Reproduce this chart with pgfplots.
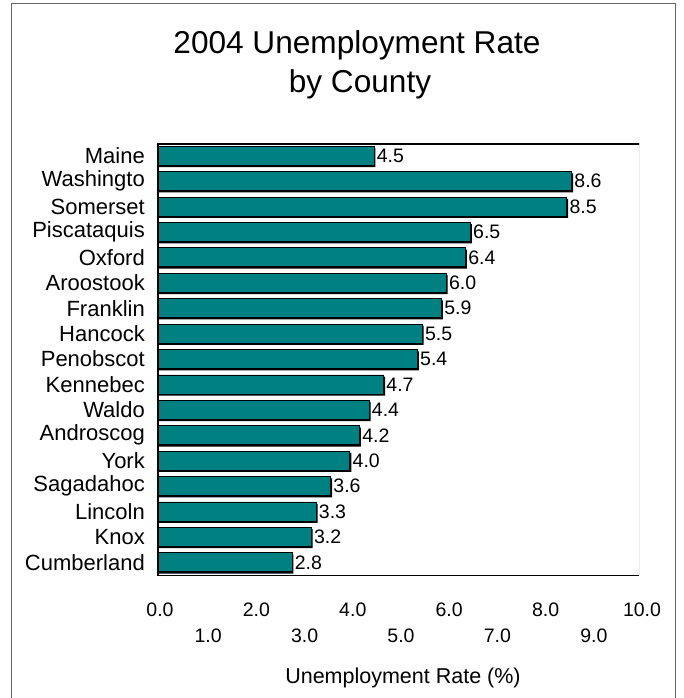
\documentclass[border=0pt]{standalone}
\usepackage{pgfplots}
\pgfplotsset{compat=1.18}
\usepackage{fontspec}
\setmainfont{Liberation Sans}
\definecolor{barteal}{RGB}{0,128,128}
\begin{document}
\begin{tikzpicture}
\useasboundingbox (0pt,0pt) rectangle (683pt,-698pt);
\draw[gray!80!black, line width=1pt] (11pt,-4pt) rectangle (675pt,-720pt);
\node[anchor=base, font=\fontsize{31.6}{36}\selectfont, inner sep=0pt] at (357pt,-53.3pt) {2004 Unemployment Rate};
\node[anchor=base, font=\fontsize{31.6}{36}\selectfont, inner sep=0pt] at (360pt,-92.7pt) {by County};
\begin{axis}[
  at={(157pt,-143pt)}, anchor=north west,
  scale only axis, width=482pt, height=432pt,
  xbar, bar width=19pt, bar shift=0pt,
  xmin=0, xmax=10, ymin=-0.5, ymax=16.5, y dir=reverse,
  /pgf/number format/assume math mode=true,
  axis line style={draw=none},
  major tick length=0pt,
  ytick={0,...,16},
  yticklabels={Maine,Washingto,Somerset,Piscataquis,Oxford,Aroostook,Franklin,Hancock,Penobscot,Kennebec,Waldo,Androscog,York,Sagadahoc,Lincoln,Knox,Cumberland},
  yticklabel style={font=\fontsize{22}{25}\selectfont, anchor=east, inner sep=0pt, xshift=-12pt},
  xtick={0,...,10},
  xticklabels={0.0,\raisebox{-26pt}{1.0},2.0,\raisebox{-26pt}{3.0},4.0,\raisebox{-26pt}{5.0},6.0,\raisebox{-26pt}{7.0},8.0,\raisebox{-26pt}{9.0},10.0},
  xticklabel style={font=\fontsize{19.5}{22}\selectfont, anchor=base, inner sep=0pt, yshift=-41pt, xshift=3pt},
  xlabel={Unemployment Rate (\%)},
  xlabel style={at={(axis description cs:0.5,0)}, anchor=base, inner sep=0pt, yshift=-108pt, xshift=5pt, font=\fontsize{21.5}{24}\selectfont},
]
\addplot[fill=black, draw=none, bar shift=0pt, xshift=1.5pt, yshift=-1.8pt, forget plot] coordinates {
(4.5,0) (8.6,1) (8.5,2) (6.5,3) (6.4,4) (6.0,5) (5.9,6) (5.5,7) (5.4,8)
(4.7,9) (4.4,10) (4.2,11) (4.0,12) (3.6,13) (3.3,14) (3.2,15) (2.8,16)};
\addplot[fill=barteal, draw=black, line width=0.8pt, bar shift=0pt,
  nodes near coords, point meta=x, nodes near coords align=horizontal,
  every node near coord/.append style={font=\fontsize{19.5}{22}\selectfont, anchor=west, inner sep=2.5pt, text=black,
    /pgf/number format/.cd, fixed, precision=1, fixed zerofill}] coordinates {
(4.5,0) (8.6,1) (8.5,2) (6.5,3) (6.4,4) (6.0,5) (5.9,6) (5.5,7) (5.4,8)
(4.7,9) (4.4,10) (4.2,11) (4.0,12) (3.6,13) (3.3,14) (3.2,15) (2.8,16)};
\draw[gray!80!black, line width=1pt] (axis description cs:1,0) -- (axis description cs:1,1);
\draw[black, line width=1pt] (axis description cs:0,0) -- (axis description cs:1,0);
\draw[black, line width=3pt] ([yshift=-2pt]axis description cs:0,0) -- (axis description cs:0,1) -- ([xshift=3pt]axis description cs:1,1);
\end{axis}
\end{tikzpicture}
\end{document}
